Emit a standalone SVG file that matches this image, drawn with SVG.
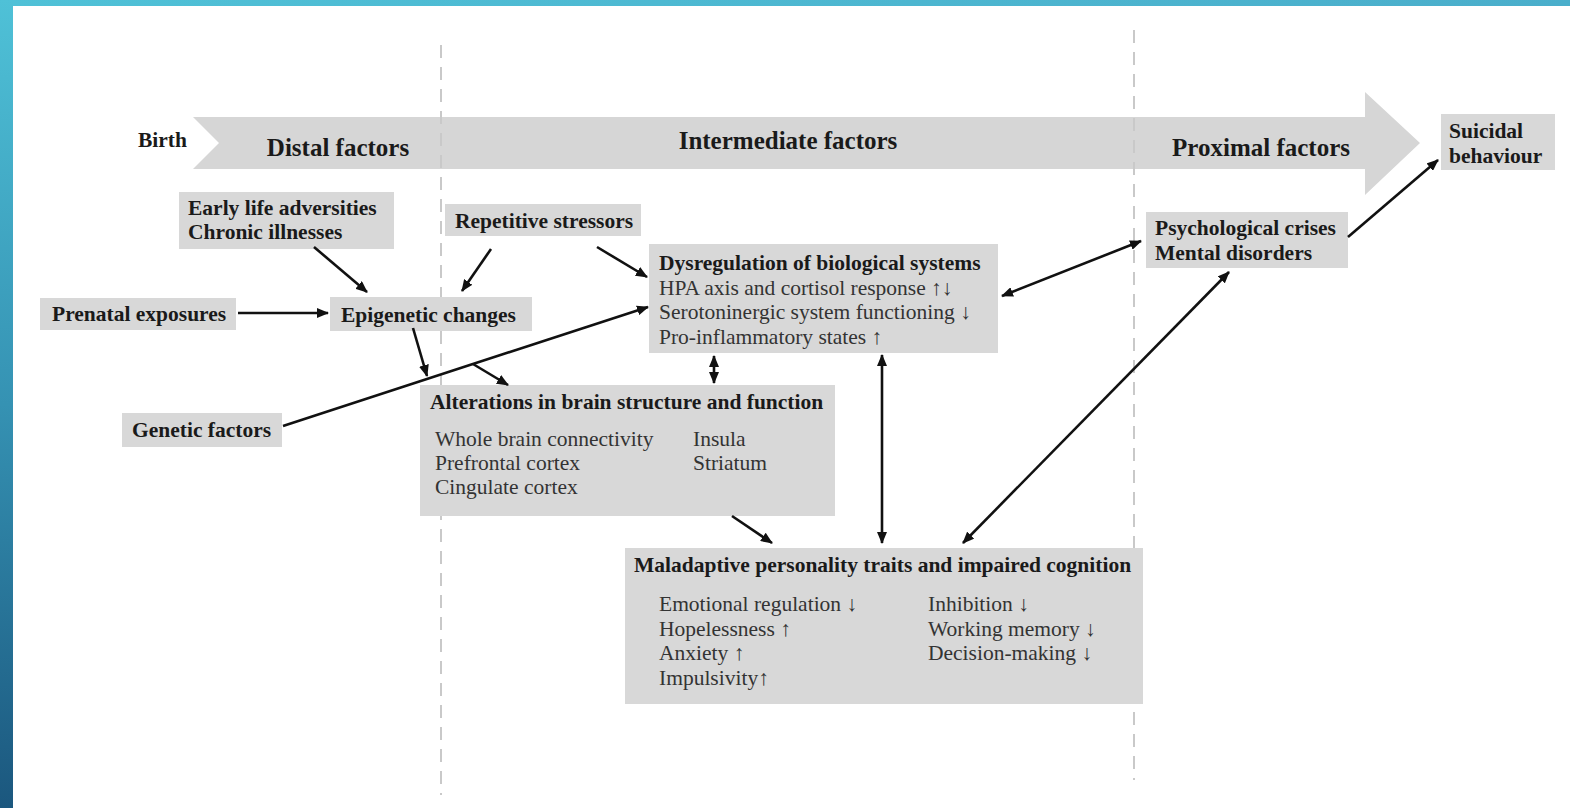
<svg xmlns="http://www.w3.org/2000/svg" width="1570" height="808" viewBox="0 0 1570 808">
<defs>
<linearGradient id="gLeft" x1="0" y1="0" x2="0" y2="1">
<stop offset="0" stop-color="#4fc1d7"/>
<stop offset="0.5" stop-color="#3592b3"/>
<stop offset="1" stop-color="#1b577e"/>
</linearGradient>
<linearGradient id="gTop" x1="0" y1="0" x2="1" y2="0">
<stop offset="0" stop-color="#4fc1d7"/>
<stop offset="1" stop-color="#4aaecb"/>
</linearGradient>
<marker id="ah" viewBox="0 0 12 10" refX="11" refY="5" markerWidth="12" markerHeight="10" markerUnits="userSpaceOnUse" orient="auto-start-reverse">
<path d="M0,0 L12,5 L0,10 Z" fill="#111"/>
</marker>
<style>
.box{fill:#d8d8d8}
.b{font-family:"Liberation Serif","Times New Roman",serif;font-weight:bold;font-size:21.5px;fill:#1a1a1a}
.r{font-family:"Liberation Serif","Times New Roman",serif;font-size:21.5px;fill:#333}
.big{font-family:"Liberation Serif","Times New Roman",serif;font-weight:bold;font-size:25px;fill:#1a1a1a}
.dash{stroke:#c9c9c9;stroke-width:2;stroke-dasharray:13 9;fill:none}
.c{stroke:#111;stroke-width:2.6;fill:none}
</style>
</defs>
<rect width="1570" height="808" fill="#fff"/>
<rect x="0" y="0" width="1570" height="6" fill="url(#gTop)"/>
<rect x="0" y="0" width="13" height="808" fill="url(#gLeft)"/>

<g id="timeline">
<path d="M193,117 L1365,117 L1365,92 L1420,143 L1365,195 L1365,169 L193,169 L219,143 Z" fill="#d6d6d6"/>
<text class="b" x="138" y="147" font-size="20px">Birth</text>
<text class="big" x="338" y="156" text-anchor="middle">Distal factors</text>
<text class="big" x="788" y="149" text-anchor="middle">Intermediate factors</text>
<text class="big" x="1261" y="156" text-anchor="middle">Proximal factors</text>
</g>

<g id="dividers">
<line class="dash" x1="441" y1="45" x2="441" y2="795"/>
<line class="dash" x1="1134" y1="30" x2="1134" y2="780"/>
</g>

<g id="early-life">
<rect class="box" x="179" y="192" width="215" height="57"/>
<text class="b" x="188" y="215">Early life adversities</text>
<text class="b" x="188" y="239">Chronic illnesses</text>
</g>
<g id="repetitive-stressors">
<rect class="box" x="445" y="204" width="196" height="32"/>
<text class="b" x="455" y="228">Repetitive stressors</text>
</g>
<g id="prenatal">
<rect class="box" x="40" y="298" width="196" height="32"/>
<text class="b" x="52" y="321">Prenatal exposures</text>
</g>
<g id="epigenetic">
<rect class="box" x="330" y="297" width="202" height="34"/>
<text class="b" x="341" y="322">Epigenetic changes</text>
</g>
<g id="genetic">
<rect class="box" x="122" y="413" width="160" height="34"/>
<text class="b" x="132" y="437">Genetic factors</text>
</g>
<g id="dysregulation">
<rect class="box" x="649" y="244" width="349" height="109"/>
<text class="b" x="659" y="270">Dysregulation of biological systems</text>
<text class="r" x="659" y="295">HPA axis and cortisol response ↑↓</text>
<text class="r" x="659" y="319">Serotoninergic system functioning ↓</text>
<text class="r" x="659" y="344">Pro-inflammatory states ↑</text>
</g>
<g id="alterations">
<rect class="box" x="420" y="385" width="415" height="131"/>
<text class="b" x="430" y="409">Alterations in brain structure and function</text>
<text class="r" x="435" y="446">Whole brain connectivity</text>
<text class="r" x="435" y="470">Prefrontal cortex</text>
<text class="r" x="435" y="494">Cingulate cortex</text>
<text class="r" x="693" y="446">Insula</text>
<text class="r" x="693" y="470">Striatum</text>
</g>
<g id="maladaptive">
<rect class="box" x="625" y="548" width="518" height="156"/>
<text class="b" x="634" y="572">Maladaptive personality traits and impaired cognition</text>
<text class="r" x="659" y="611">Emotional regulation ↓</text>
<text class="r" x="659" y="636">Hopelessness ↑</text>
<text class="r" x="659" y="660">Anxiety ↑</text>
<text class="r" x="659" y="685">Impulsivity↑</text>
<text class="r" x="928" y="611">Inhibition ↓</text>
<text class="r" x="928" y="636">Working memory ↓</text>
<text class="r" x="928" y="660">Decision-making ↓</text>
</g>
<g id="psychological">
<rect class="box" x="1146" y="212" width="202" height="56"/>
<text class="b" x="1155" y="235">Psychological crises</text>
<text class="b" x="1155" y="260">Mental disorders</text>
</g>
<g id="suicidal">
<rect class="box" x="1441" y="114" width="114" height="56"/>
<text class="b" x="1449" y="138">Suicidal</text>
<text class="b" x="1449" y="163">behaviour</text>
</g>

<g id="connectors">
<line class="c" x1="238" y1="313" x2="328" y2="313" marker-end="url(#ah)"/>
<line class="c" x1="314" y1="247" x2="367" y2="292" marker-end="url(#ah)"/>
<line class="c" x1="491" y1="249" x2="462" y2="291" marker-end="url(#ah)"/>
<line class="c" x1="597" y1="247" x2="647" y2="277" marker-end="url(#ah)"/>
<line class="c" x1="413" y1="328" x2="427" y2="376" marker-end="url(#ah)"/>
<line class="c" x1="473" y1="364" x2="508" y2="385" marker-end="url(#ah)"/>
<line class="c" x1="283" y1="426" x2="648" y2="307" marker-end="url(#ah)"/>
<line class="c" x1="714" y1="356" x2="714" y2="383" marker-start="url(#ah)" marker-end="url(#ah)"/>
<line class="c" x1="882" y1="355" x2="882" y2="543" marker-start="url(#ah)" marker-end="url(#ah)"/>
<line class="c" x1="732" y1="516" x2="772" y2="543" marker-end="url(#ah)"/>
<line class="c" x1="1002" y1="296" x2="1141" y2="241" marker-start="url(#ah)" marker-end="url(#ah)"/>
<line class="c" x1="963" y1="543" x2="1229" y2="272" marker-start="url(#ah)" marker-end="url(#ah)"/>
<line class="c" x1="1348" y1="237" x2="1438" y2="160" marker-end="url(#ah)"/>
</g>
</svg>
